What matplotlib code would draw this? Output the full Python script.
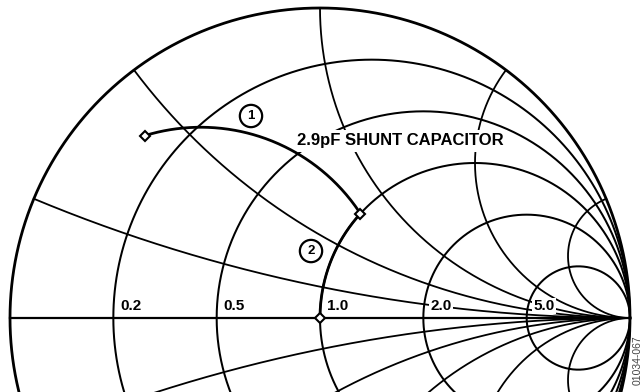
import numpy as np
import matplotlib
matplotlib.use("Agg")
import matplotlib.pyplot as plt
from matplotlib.patches import Circle

plt.rcParams['font.family'] = ['Liberation Sans', 'DejaVu Sans']

# grid values of the chart
resistances = [0.2, 0.5, 1.0, 2.0, 5.0]
reactances = [0.2, 0.5, 1.0, 2.0, 5.0]
r_labels = ["0.2", "0.5", "1.0", "2.0", "5.0"]

# matching path: start load, after the shunt capacitor, final point
z_start = 0.1195 + 0.4206j
z_mid = 1.0 + 0.775j
z_end = 1.0 + 0.0j
cap_label = "2.9pF SHUNT CAPACITOR"


def gamma(z):
    return (z - 1) / (z + 1)


def main():
    fig = plt.figure(figsize=(6.42, 3.92), dpi=100)
    ax = fig.add_axes([0, 0, 1, 1])
    ax.set_xlim(-320 / 310, 322 / 310)
    ax.set_ylim(-74 / 310, 318 / 310)
    ax.set_aspect('equal')
    ax.axis('off')

    # outer circle and real axis
    t = np.linspace(0, 2 * np.pi, 721)
    ax.plot(np.cos(t), np.sin(t), color='black', lw=2.0, zorder=3)
    ax.plot([-1, 1], [0, 0], color='black', lw=1.6, zorder=4)

    # constant resistance circles
    for r in resistances:
        c = r / (1 + r)
        rad = 1 / (1 + r)
        ax.plot(c + rad * np.cos(t), rad * np.sin(t), color='black', lw=1.45, zorder=1)

    # constant reactance arcs, both halves
    rr = np.tan(np.linspace(0, np.pi / 2, 600))[:-1]
    for x in reactances:
        for s in (1, -1):
            g = gamma(rr + 1j * s * x)
            g = np.append(g, 1 + 0j)
            ax.plot(g.real, g.imag, color='black', lw=1.3, zorder=1)

    # resistance labels on the axis
    for r, lab in zip(resistances, r_labels):
        x0 = (r - 1) / (r + 1)
        ax.text(x0 + 0.022, 0.016, lab, fontsize=11, fontweight='bold',
                ha='left', va='bottom', zorder=2,
                bbox=dict(facecolor='white', edgecolor='none', pad=1.0))

    # step 1: shunt capacitor along constant conductance
    y0 = 1 / z_start
    y1 = 1 / z_mid
    b = np.linspace(y0.imag, y1.imag, 200)
    g1 = (1 - (y0.real + 1j * b)) / (1 + (y0.real + 1j * b))
    ax.plot(g1.real, g1.imag, color='black', lw=2.0, zorder=5)

    # step 2: along r = 1 circle to the centre
    xs = np.linspace(z_mid.imag, z_end.imag, 200)
    g2 = gamma(z_mid.real + 1j * xs)
    ax.plot(g2.real, g2.imag, color='black', lw=2.0, zorder=5)

    pts = gamma(np.array([z_start, z_mid, z_end]))
    ax.plot(pts.real, pts.imag, ls='none', marker='D', ms=5.5, mfc='white',
            mec='black', mew=1.5, zorder=6)

    # annotations
    ax.text(0.258, 0.571, cap_label, fontsize=12, fontweight='bold',
            ha='center', va='center', zorder=2,
            bbox=dict(facecolor='white', edgecolor='none', pad=2.5))
    for num, (cx, cy) in [("1", (-0.2226, 0.6516)), ("2", (-0.029, 0.216))]:
        ax.add_patch(Circle((cx, cy), 0.036, facecolor='white', edgecolor='black',
                            lw=1.6, zorder=7))
        ax.text(cx, cy, num, fontsize=9.5, fontweight='bold', ha='center',
                va='center', zorder=8)

    ax.text(1.0245, -0.137, "01034-067", fontsize=7.5, color='#444444',
            rotation=90, ha='center', va='center', zorder=8)

    fig.savefig("out.png", dpi=100)
    plt.close(fig)


if __name__ == "__main__":
    main()
